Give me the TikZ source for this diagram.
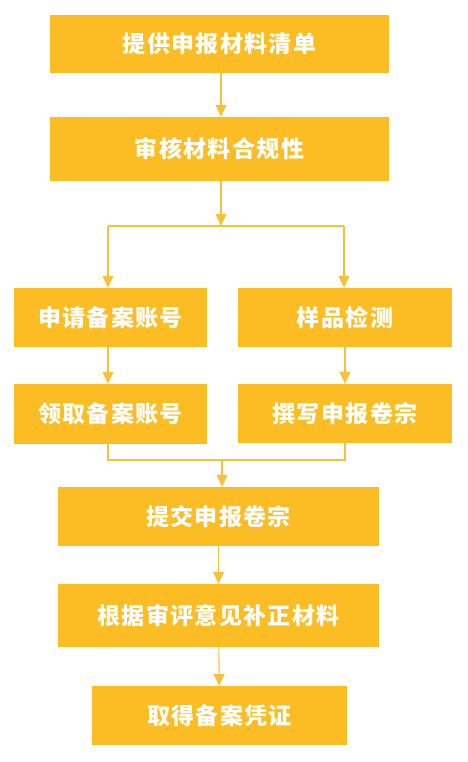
\documentclass[tikz,border=0pt]{standalone}
\usepackage{fontspec}
\newfontfamily\cjk{Noto Sans CJK SC}[LetterSpace=6]
\usetikzlibrary{arrows.meta}
\definecolor{boxc}{HTML}{FBBD23}
\definecolor{linec}{HTML}{F8C13A}
\tikzset{
  box/.style={fill=boxc, draw=none, inner sep=0pt, text=white,
    font=\cjk\bfseries\fontsize{23}{26}\selectfont},
  conn/.style={draw=linec, line width=1.1pt},
  arr/.style={conn, -{Triangle[width=11pt,length=12pt]}}
}
\begin{document}
\begin{tikzpicture}[x=1pt,y=-1pt]
\useasboundingbox (0,0) rectangle (467,762);
\node[box, minimum width=339pt, minimum height=58pt] (b1) at (219.5,44) {提供申报材料清单};
\node[box, minimum width=339pt, minimum height=64pt] (b2) at (219.5,149) {审核材料合规性};
\node[box, minimum width=193pt, minimum height=59pt] (b3) at (110.5,317.5) {申请备案账号};
\node[box, minimum width=214pt, minimum height=59pt] (b4) at (345,317.5) {样品检测};
\node[box, minimum width=193pt, minimum height=60pt] (b5) at (110.5,414) {领取备案账号};
\node[box, minimum width=214pt, minimum height=59pt] (b6) at (345,413.5) {撰写申报卷宗};
\node[box, minimum width=321pt, minimum height=59pt] (b7) at (218.5,516.5) {提交申报卷宗};
\node[box, minimum width=321pt, minimum height=63pt] (b8) at (218.5,615.5) {根据审评意见补正材料};
\node[box, minimum width=255pt, minimum height=59pt] (b9) at (219.5,715.5) {取得备案凭证};
\coordinate (j1) at (221,226);
\coordinate (jl) at (108,226);
\coordinate (jr) at (344,226);
\coordinate (ml) at (108,460);
\coordinate (mr) at (345,460);
\coordinate (mc) at (222,460);
% connectors
\draw[arr] (b1.south -| j1) -- (b2.north -| j1);
\draw[arr] (b2.south -| j1) -- (j1);
\draw[conn] (jl) -- (jr);
\draw[arr] (jl) -- (b3.north -| jl);
\draw[arr] (jr) -- (b4.north -| jr);
\draw[arr] (b3.south -| jl) -- (b5.north -| jl);
\draw[arr] (b4.south -| mr) -- (b6.north -| mr);
\draw[conn] (b5.south -| ml) -- (ml) -- (mr) -- (b6.south -| mr);
\draw[arr] (mc) -- (b7.north -| mc);
\draw[arr] (b7) -- (b8);
\draw[arr] (b8) -- (b9);
\end{tikzpicture}
\end{document}
